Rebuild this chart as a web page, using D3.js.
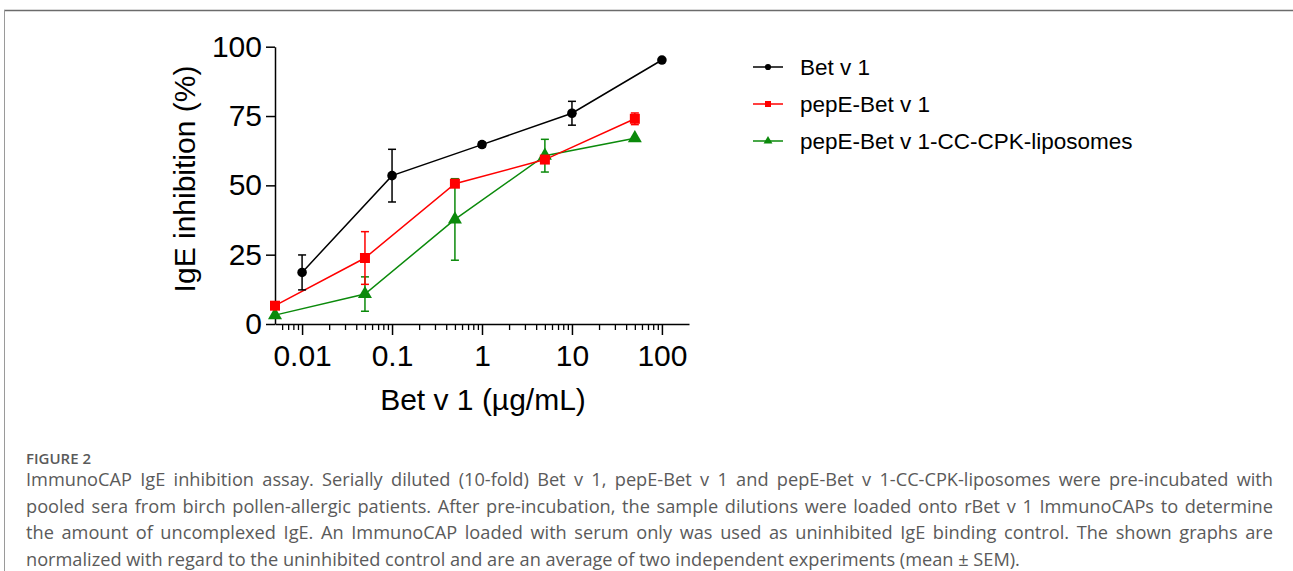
<!DOCTYPE html>
<html>
<head>
<meta charset="utf-8">
<script src="https://cdn.jsdelivr.net/npm/d3@7"></script>
<style>
  body { margin: 0; background: #fff; }
  #wrap { position: relative; width: 1293px; height: 571px; overflow: hidden; }
  #caption {
    position: absolute; left: 26px; top: 0; width: 1247px;
    font-family: "Open Sans", "Noto Sans", sans-serif; color: #5a5a5a;
  }
  #caption div { position: absolute; left: 0; width: 1247px; height: 20px; line-height: 20px; white-space: nowrap; }
  #caption .fig { font-size: 15px; font-weight: 600; }
  #caption .ln { font-size: 18.2px; text-align: justify; text-align-last: justify; }
  #caption .ln.last { text-align-last: left; }
</style>
</head>
<body>
<div id="wrap">
  <div id="chart"></div>
  <div id="caption"></div>
</div>
<script>
// concentrations (µg/mL)
var concBet = [0.01, 0.1, 1, 10, 100],
    concPep = [0.005, 0.05, 0.5, 5, 50];

// IgE inhibition (%) mean and SEM
var betMean  = [18.6, 53.5, 64.7, 76.0, 95.2],
    betSem   = [6.3, 9.5, 0.8, 4.3, 0],
    pepMean  = [6.6, 23.8, 50.6, 59.3, 74.0],
    pepSem   = [0, 9.5, 1.0, 1.2, 2.1],
    lipoMean = [3.2, 10.8, 37.7, 60.7, 67.0],
    lipoSem  = [0, 6.2, 14.7, 5.9, 0];

var seriesNames = ["Bet v 1", "pepE-Bet v 1", "pepE-Bet v 1-CC-CPK-liposomes"];

// axis ticks
var xMajor = [0.01, 0.1, 1, 10, 100],
    xMinor = [0.006, 0.007, 0.008, 0.009,
              0.02, 0.03, 0.04, 0.05, 0.06, 0.07, 0.08, 0.09,
              0.2, 0.3, 0.4, 0.5, 0.6, 0.7, 0.8, 0.9,
              2, 3, 4, 5, 6, 7, 8, 9,
              20, 30, 40, 50, 60, 70, 80, 90],
    xLabels = ["0.01", "0.1", "1", "10", "100"],
    yTicks = [0, 25, 50, 75, 100];

var captionHead = "FIGURE 2";
var captionLines = [
  "ImmunoCAP IgE inhibition assay. Serially diluted (10-fold) Bet v 1, pepE-Bet v 1 and pepE-Bet v 1-CC-CPK-liposomes were pre-incubated with",
  "pooled sera from birch pollen-allergic patients. After pre-incubation, the sample dilutions were loaded onto rBet v 1 ImmunoCAPs to determine",
  "the amount of uncomplexed IgE. An ImmunoCAP loaded with serum only was used as uninhibited IgE binding control. The shown graphs are",
  "normalized with regard to the uninhibited control and are an average of two independent experiments (mean \u00b1 SEM)."
];

var width = 1293, height = 571;
var font = "Arial, 'Liberation Sans', sans-serif";

var svg = d3.select("#chart").append("svg")
    .attr("width", width)
    .attr("height", height)
    .style("display", "block");

// frame lines of the figure box
svg.append("line").attr("x1", 4).attr("x2", width).attr("y1", 10.5).attr("y2", 10.5)
    .attr("stroke", "#6b6b6b").attr("stroke-width", 1.5);
svg.append("line").attr("x1", 4.5).attr("x2", 4.5).attr("y1", 10).attr("y2", height)
    .attr("stroke", "#9a9a9a").attr("stroke-width", 1);

// scales
var x = d3.scaleLog().domain([0.005, 200]).range([275, 689]);
var y = d3.scaleLinear().domain([0, 100]).range([324, 46.7]);

// y axis
var yAxis = svg.append("g")
    .attr("transform", "translate(275,0)")
    .call(d3.axisLeft(y).tickValues(yTicks).tickSize(9).tickPadding(4).tickSizeOuter(0));
yAxis.select(".domain").attr("stroke-width", 1.5);
yAxis.selectAll(".tick line").attr("stroke-width", 1.5);
yAxis.selectAll("text").style("font-family", font).style("font-size", "30px").attr("fill", "#000");

// x axis, major then minor ticks
var xAxis = svg.append("g")
    .attr("transform", "translate(0,324)")
    .call(d3.axisBottom(x).tickValues(xMajor).tickSize(11).tickPadding(10).tickSizeOuter(0)
        .tickFormat(function(d, i) { return xLabels[i]; }));
xAxis.select(".domain").attr("stroke-width", 1.5);
xAxis.selectAll(".tick line").attr("stroke-width", 1.5);
xAxis.selectAll("text").style("font-family", font).style("font-size", "30px").attr("fill", "#000");

var xMinorAxis = svg.append("g")
    .attr("transform", "translate(0,324)")
    .call(d3.axisBottom(x).tickValues(xMinor).tickSize(6).tickFormat("").tickSizeOuter(0));
xMinorAxis.select(".domain").remove();
xMinorAxis.selectAll(".tick line").attr("stroke-width", 1.3);

// axis titles
svg.append("text")
    .attr("x", 483).attr("y", 410)
    .attr("text-anchor", "middle")
    .style("font-family", font).style("font-size", "30px")
    .text("Bet v 1 (\u00b5g/mL)");

svg.append("text")
    .attr("transform", "translate(195,179) rotate(-90)")
    .attr("text-anchor", "middle")
    .style("font-family", font).style("font-size", "30px")
    .text("IgE inhibition (%)");

// series, drawn back to front
var series = [
    {name: seriesNames[2], conc: concPep, mean: lipoMean, sem: lipoSem, color: "#0b8a0b", symbol: d3.symbolTriangle, size: 85, legendSize: 34},
    {name: seriesNames[1], conc: concPep, mean: pepMean, sem: pepSem, color: "#ff0000", symbol: d3.symbolSquare, size: 100, legendSize: 36},
    {name: seriesNames[0], conc: concBet, mean: betMean, sem: betSem, color: "#000000", symbol: d3.symbolCircle, size: 72, legendSize: 30}
];

var line = d3.line()
    .x(function(d) { return x(d.c); })
    .y(function(d) { return y(d.m); });

series.forEach(function(s) {
    var pts = s.conc.map(function(c, i) { return {c: c, m: s.mean[i], e: s.sem[i]}; });
    var g = svg.append("g");

    // error bars
    var eb = g.selectAll(".err").data(pts.filter(function(d) { return d.e > 0; }))
        .enter().append("g").attr("stroke", s.color).attr("stroke-width", 1.5);
    eb.append("line")
        .attr("x1", function(d) { return x(d.c); }).attr("x2", function(d) { return x(d.c); })
        .attr("y1", function(d) { return y(d.m + d.e); }).attr("y2", function(d) { return y(d.m - d.e); });
    eb.append("line")
        .attr("x1", function(d) { return x(d.c) - 4; }).attr("x2", function(d) { return x(d.c) + 4; })
        .attr("y1", function(d) { return y(d.m + d.e); }).attr("y2", function(d) { return y(d.m + d.e); });
    eb.append("line")
        .attr("x1", function(d) { return x(d.c) - 4; }).attr("x2", function(d) { return x(d.c) + 4; })
        .attr("y1", function(d) { return y(d.m - d.e); }).attr("y2", function(d) { return y(d.m - d.e); });

    g.append("path").datum(pts)
        .attr("d", line)
        .attr("fill", "none")
        .attr("stroke", s.color)
        .attr("stroke-width", 1.5);

    g.selectAll(".pt").data(pts).enter().append("path")
        .attr("transform", function(d) { return "translate(" + x(d.c) + "," + y(d.m) + ")"; })
        .attr("d", d3.symbol().type(s.symbol).size(s.size))
        .attr("fill", s.color);
});

// legend
var legend = svg.append("g");
series.slice().reverse().forEach(function(s, i) {
    var ly = 67 + i * 37;
    legend.append("line").attr("x1", 753).attr("x2", 783).attr("y1", ly).attr("y2", ly)
        .attr("stroke", s.color).attr("stroke-width", 1.5);
    legend.append("path")
        .attr("transform", "translate(768," + ly + ")")
        .attr("d", d3.symbol().type(s.symbol).size(s.legendSize))
        .attr("fill", s.color);
    legend.append("text")
        .attr("x", 800).attr("y", ly).attr("dy", "0.35em")
        .style("font-family", font).style("font-size", "22.5px")
        .text(s.name);
});

// caption, one absolutely placed row per line (centre y given)
var cap = d3.select("#caption");
cap.append("div").attr("class", "fig").style("top", (458 - 10) + "px").text(captionHead);
var lineCentres = [479, 505.7, 532.4, 559];
cap.selectAll(".ln").data(captionLines).enter().append("div")
    .attr("class", function(d, i) { return i === captionLines.length - 1 ? "ln last" : "ln"; })
    .style("top", function(d, i) { return (lineCentres[i] - 10) + "px"; })
    .text(function(d) { return d; });
</script>
</body>
</html>
